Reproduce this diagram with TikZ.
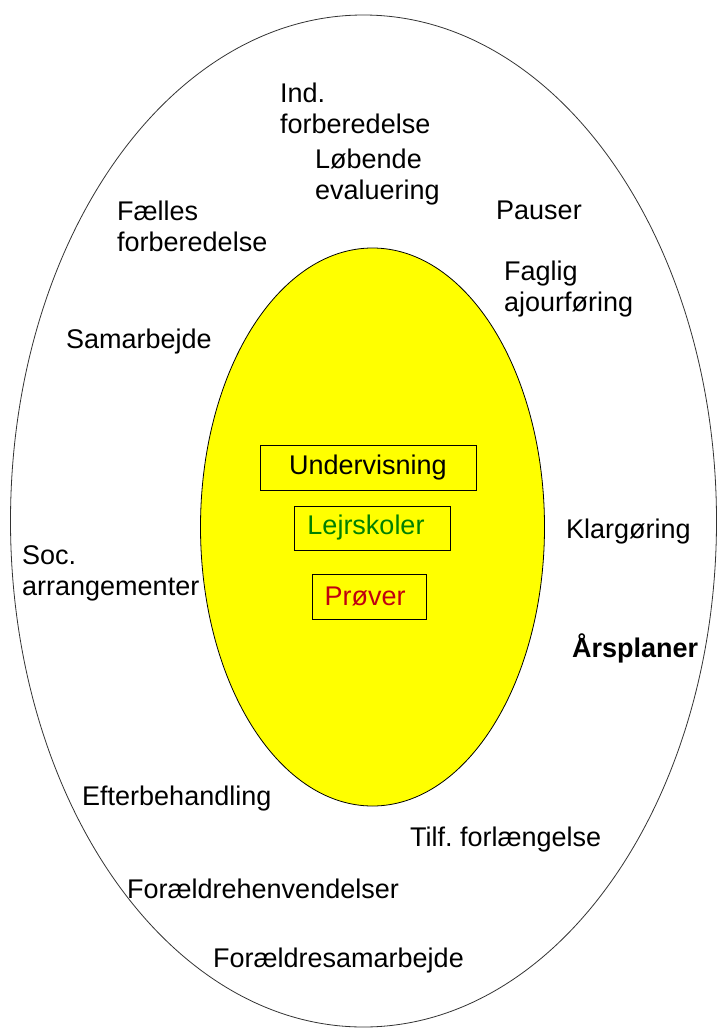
\documentclass[tikz,border=0pt]{standalone}
\usepackage{fontspec}
\setmainfont{Liberation Sans}
\frenchspacing
\definecolor{ryellow}{RGB}{255,255,0}
\definecolor{rgreen}{RGB}{0,128,0}
\definecolor{rred}{RGB}{192,0,16}
\begin{document}
\begin{tikzpicture}[x=1pt,y=-1pt,
  lbl/.style={anchor=base west,inner sep=0pt,align=left,font=\fontsize{27}{31}\selectfont},
  boxlbl/.style={draw=black,line width=0.8pt,fill=ryellow,inner sep=0pt,font=\fontsize{27}{31}\selectfont}]
\useasboundingbox (0,0) rectangle (716,1028);
\fill[white] (0,0) rectangle (716,1028);
\draw[line width=0.8pt,black!80] (363.5,521) ellipse [x radius=353, y radius=506];
\draw[line width=0.8pt,fill=ryellow] (372.5,527) ellipse [x radius=172, y radius=279];
% boxes
\node[boxlbl,minimum width=216pt,minimum height=45pt] (und) at (368,467.5) {Undervisning};
\node[boxlbl,minimum width=156pt,minimum height=44pt,text=rgreen] (lej) at (372,528) {\hspace*{-12pt}Lejrskoler};
\node[boxlbl,minimum width=114pt,minimum height=45pt,text=rred] (pro) at (369,596.5) {\hspace*{-8pt}Prøver};
% outer labels (multi-line nodes: anchor at last baseline)
\node[lbl] (ind) at (280,133) {Ind.\\forberedelse};
\node[lbl] (lob) at (315,199) {Løbende\\evaluering};
\node[lbl] (fae) at (117,251) {Fælles\\forberedelse};
\node[lbl] (pau) at (496,219) {Pauser};
\node[lbl] (fag) at (504,311) {Faglig\\ajourføring};
\node[lbl] (sam) at (66,348) {Samarbejde};
\node[lbl] (kla) at (566,538) {Klargøring};
\node[lbl] (soc) at (22,595) {Soc.\\arrangementer};
\node[lbl,font=\fontsize{27}{31}\selectfont\bfseries] (ars) at (572,657) {Årsplaner};
\node[lbl] (eft) at (82,805) {Efterbehandling};
\node[lbl] (til) at (410,846) {Tilf. forlængelse};
\node[lbl] (foh) at (127,898) {Forældrehenvendelser};
\node[lbl] (fos) at (213,967) {Forældresamarbejde};
\end{tikzpicture}
\end{document}
